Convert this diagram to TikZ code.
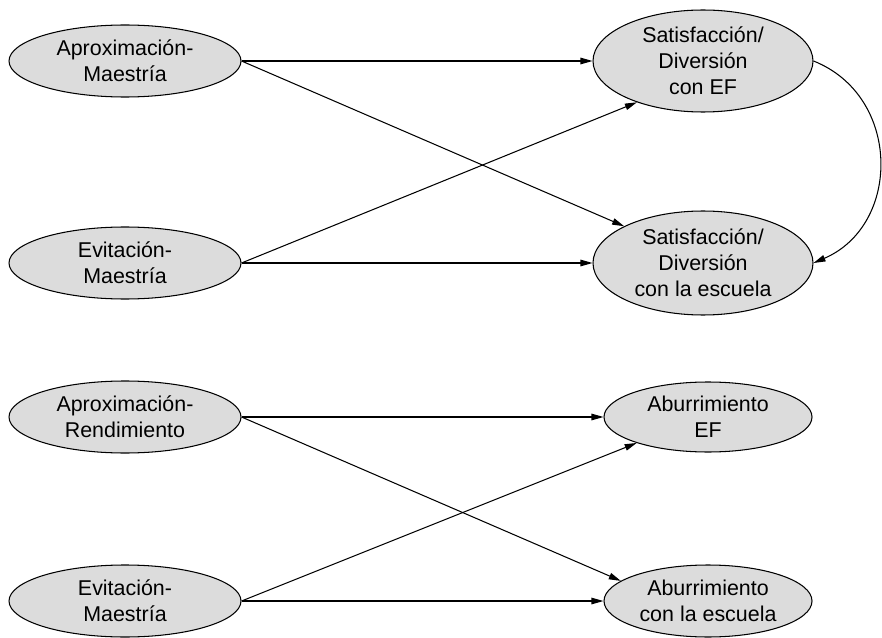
\documentclass[tikz,border=0pt]{standalone}
\usepackage{fontspec}
\setmainfont{Liberation Sans}
\usetikzlibrary{arrows.meta,shapes.geometric}
\definecolor{ellfill}{RGB}{220,220,220}
\begin{document}
\begin{tikzpicture}[x=1bp,y=-1bp,
  ell/.style={ellipse, draw, line width=1.05bp, fill=ellfill, inner sep=0pt,
    align=center, font=\fontsize{21.5}{26}\selectfont},
  leftell/.style={ell, minimum width=232bp, minimum height=72bp},
  conn/.style={line width=1.05bp, -{Triangle[length=12bp,width=6.5bp]}}]
\useasboundingbox (0,0) rectangle (882,638);
% left column
\node[leftell] (am)  at (125,61)  {Aproximación-\\Maestría};
\node[leftell] (em1) at (125,263) {Evitación-\\Maestría};
\node[leftell] (ar)  at (125,417) {Aproximación-\\Rendimiento};
\node[leftell] (em2) at (125,601) {Evitación-\\Maestría};
% right column
\node[ell, minimum width=220bp, minimum height=102bp] (ef)  at (703,61)  {Satisfacción/\\Diversión\\con EF};
\node[ell, minimum width=220bp, minimum height=104bp] (esc) at (703,263) {Satisfacción/\\Diversión\\con la escuela};
\node[ell, minimum width=208bp, minimum height=70bp]  (abef)  at (708,417) {Aburrimiento\\EF};
\node[ell, minimum width=208bp, minimum height=72bp]  (abesc) at (708,601) {Aburrimiento\\con la escuela};
% connectors
\draw[conn] (am.east)  -- (ef.west);
\draw[conn] (am.east)  -- (esc.155);
\draw[conn] (em1.east) -- (ef.212);
\draw[conn] (em1.east) -- (esc.west);
\draw[conn] (ar.east)  -- (abef.west);
\draw[conn] (ar.east)  -- (abesc.167);
\draw[conn] (em2.east) -- (abef.200);
\draw[conn] (em2.east) -- (abesc.west);
\draw[conn] (ef.east) .. controls +(88,35) and +(88,-38) .. (esc.east);
\end{tikzpicture}
\end{document}
